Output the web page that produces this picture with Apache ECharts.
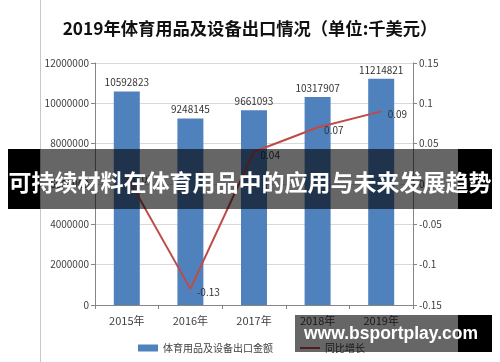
<!DOCTYPE html>
<html>
<head>
<meta charset="utf-8">
<script src="https://cdn.jsdelivr.net/npm/echarts@6/dist/echarts.min.js"></script>
<style>
html,body{margin:0;padding:0;background:#fff;}
#chart{width:500px;height:362px;}
</style>
</head>
<body>
<div id="chart"></div>
<script>
var categories = ['2015年', '2016年', '2017年', '2018年', '2019年'];
var exportValues = [10592823, 9248145, 9661093, 10317907, 11214821];
var growthValues = [0.01, -0.13, 0.04, 0.07, 0.09];
var leftTicks = [0, 2000000, 4000000, 6000000, 8000000, 10000000, 12000000];
var rightTicks = [-0.15, -0.1, -0.05, 0, 0.05, 0.1, 0.15];
var titleText = '2019年体育用品及设备出口情况（单位:千美元）';
var bannerText = '可持续材料在体育用品中的应用与未来发展趋势';
var watermarkText = 'www.bsportplay.com';
var barName = '体育用品及设备出口金额';
var lineName = '同比增长';

var FONT = '"Noto Sans CJK SC", "Noto Sans", sans-serif';
var chart = echarts.init(document.getElementById('chart'), null, {renderer: 'canvas'});
chart.setOption({
  animation: false,
  backgroundColor: '#fff',
  textStyle: {fontFamily: FONT},
  title: {
    text: titleText,
    left: 'center',
    top: 15,
    textStyle: {fontSize: 17.3, fontWeight: 'bold', color: '#111', fontFamily: FONT}
  },
  legend: {
    bottom: 4,
    left: 133,
    itemGap: 27,
    itemWidth: 20,
    itemHeight: 7,
    textStyle: {fontSize: 10, color: '#404040', fontFamily: FONT},
    data: [
      {name: barName, icon: 'rect'},
      {name: lineName, icon: 'path://M0,0 L20,0 L20,2 L0,2 Z'}
    ]
  },
  grid: {left: 95, right: 87, top: 63, bottom: 57},
  xAxis: {
    type: 'category',
    data: categories,
    axisLine: {lineStyle: {color: '#868686', width: 1}},
    axisTick: {show: true, length: 4, lineStyle: {color: '#868686'}},
    axisLabel: {fontSize: 11, color: '#404040', margin: 10, fontFamily: FONT}
  },
  yAxis: [
    {
      type: 'value',
      min: 0, max: 12000000, interval: 2000000,
      axisLine: {show: true, lineStyle: {color: '#868686'}},
      axisTick: {show: true, length: 4, lineStyle: {color: '#868686'}},
      axisLabel: {fontSize: 10, color: '#404040', margin: 6, fontFamily: FONT,
        formatter: function (v) { return String(v); }},
      splitLine: {show: true, lineStyle: {color: '#d9d9d9'}}
    },
    {
      type: 'value',
      min: -0.15, max: 0.15, interval: 0.05,
      axisLine: {show: true, lineStyle: {color: '#868686'}},
      axisTick: {show: true, length: 4, lineStyle: {color: '#868686'}},
      axisLabel: {fontSize: 10, color: '#404040', margin: 6, fontFamily: FONT,
        formatter: function (v) { return String(Math.round(v * 100) / 100); }},
      splitLine: {show: false}
    }
  ],
  series: [
    {
      name: barName,
      type: 'bar',
      data: exportValues,
      barWidth: 26,
      itemStyle: {color: '#4F81BD'},
      label: {show: true, position: 'top', fontSize: 10, color: '#333', distance: 4, fontFamily: FONT}
    },
    {
      name: lineName,
      type: 'line',
      yAxisIndex: 1,
      data: growthValues,
      symbol: 'circle',
      symbolSize: 1,
      lineStyle: {color: '#BE4B48', width: 2},
      itemStyle: {color: '#BE4B48'},
      label: {show: true, position: 'right', distance: 6, offset: [0, 3], fontSize: 10, color: '#333', fontFamily: FONT,
        formatter: function (p) { return String(p.value); }}
    }
  ],
  graphic: [
    {type: 'line', z: 50, shape: {x1: 40.5, y1: 0, x2: 40.5, y2: 362}, style: {stroke: '#c8c8c8', lineWidth: 1}},
    {type: 'rect', z: 100, shape: {x: 8, y: 149, width: 32, height: 60}, style: {fill: '#000'}},
    {type: 'rect', z: 100, shape: {x: 40, y: 149, width: 418, height: 60}, style: {fill: 'rgba(0,0,0,0.6)'}},
    {type: 'rect', z: 100, shape: {x: 458, y: 149, width: 34, height: 60}, style: {fill: '#000'}},
    {type: 'text', z: 101, x: 250, y: 182, style: {text: bannerText, fill: '#fff', font: 'bold 23px "Noto Sans CJK SC", sans-serif', textAlign: 'center', textVerticalAlign: 'middle'}},
    {type: 'rect', z: 100, shape: {x: 295, y: 315, width: 163, height: 37}, style: {fill: 'rgba(0,0,0,0.6)'}},
    {type: 'rect', z: 100, shape: {x: 458, y: 315, width: 34, height: 37}, style: {fill: '#000'}},
    {type: 'text', z: 101, x: 391, y: 334, style: {text: watermarkText, fill: '#fff', font: 'bold 17.5px "Liberation Sans", Arial, sans-serif', textAlign: 'center', textVerticalAlign: 'middle'}}
  ]
});
</script>
</body>
</html>
